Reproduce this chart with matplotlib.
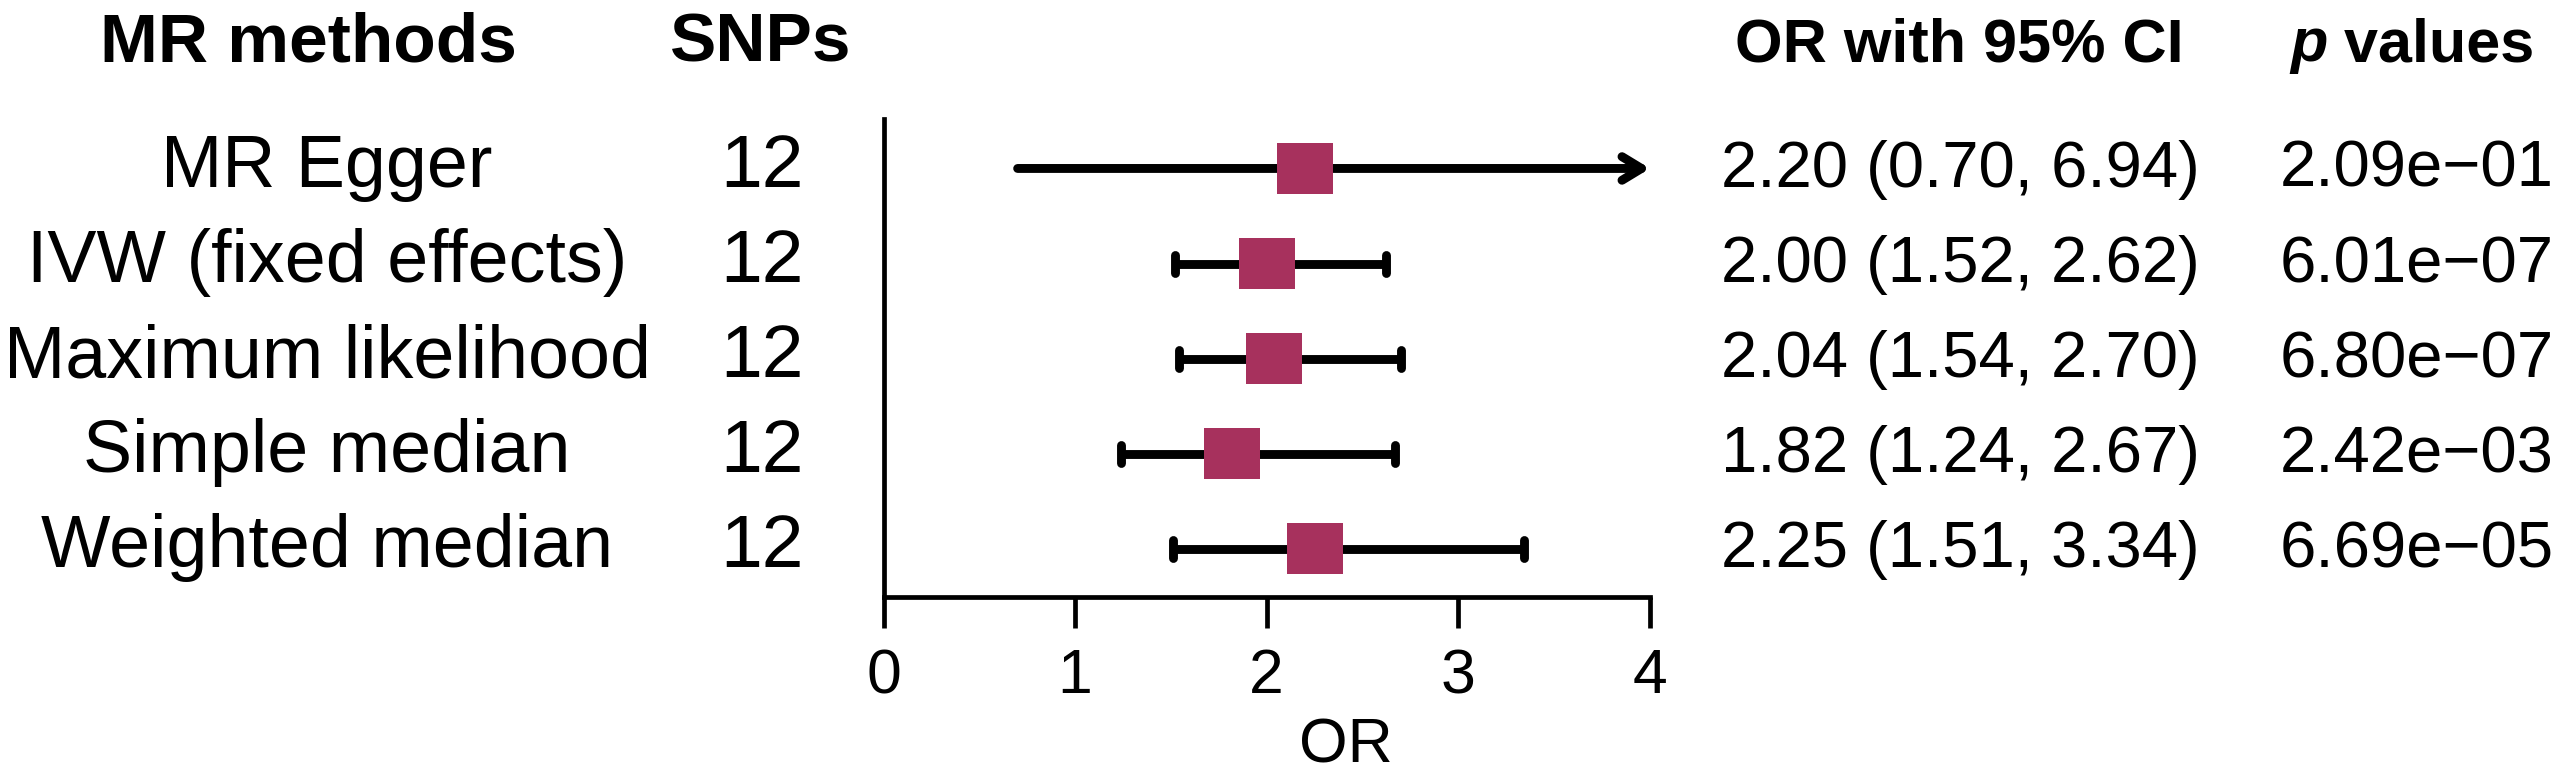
import matplotlib
matplotlib.use('Agg')
import matplotlib.pyplot as plt
from matplotlib import transforms
from matplotlib.patches import Rectangle

methods = ['MR Egger', 'IVW (fixed effects)', 'Maximum likelihood',
           'Simple median', 'Weighted median']
snps = [12, 12, 12, 12, 12]
odds = [2.20, 2.00, 2.04, 1.82, 2.25]
lower = [0.70, 1.52, 1.54, 1.24, 1.51]
upper = [6.94, 2.62, 2.70, 2.67, 3.34]
pvals = [2.09e-01, 6.01e-07, 6.80e-07, 2.42e-03, 6.69e-05]
xticks = [0, 1, 2, 3, 4]

W, H = 2559, 777
plt.rcParams['font.family'] = ['Liberation Sans', 'DejaVu Sans']

fig = plt.figure(figsize=(W / 100, H / 100), dpi=100)
ax = fig.add_axes([883.5 / W, 1 - 597 / H, (1650 - 883.5) / W, (597 - 119) / H])

box_col = '#a7315d'
lw = 6.4
xmax = xticks[-1]
n = len(methods)
pos = [n - i for i in range(n)]

ax.set_xlim(0, xmax)
ax.set_ylim(0.495, n + 0.52)
for s in ['top', 'right']:
    ax.spines[s].set_visible(False)
for s in ['left', 'bottom']:
    ax.spines[s].set_linewidth(3.4)
    ax.spines[s].set_capstyle('projecting')
ax.set_yticks([])
ax.set_xticks(xticks)
ax.tick_params(axis='x', length=22, width=3.4, pad=14, labelsize=45)

# boxes and CI lines, arrow when the CI runs past the axis
bw, bh = 0.292, 0.536
cap = 0.095
for o, lo, hi, p in zip(odds, lower, upper, pos):
    if hi > xmax:
        ax.annotate('', xy=(xmax, p), xytext=(lo, p), annotation_clip=False,
                    arrowprops=dict(arrowstyle='->,head_length=14,head_width=8.5',
                                    lw=lw, color='black', shrinkA=0, shrinkB=0,
                                    capstyle='round', joinstyle='round',
                                    mutation_scale=1))
    else:
        ax.hlines(p, lo, hi, color='black', lw=lw, capstyle='butt', zorder=2)
        ax.vlines([lo, hi], p - cap, p + cap, color='black', lw=lw,
                  capstyle='round', zorder=2)
    ax.add_patch(Rectangle((o - bw / 2, p - bh / 2), bw, bh, facecolor=box_col,
                           edgecolor='none', zorder=3))

# text columns
rows = transforms.blended_transform_factory(fig.transFigure, ax.transData)
rows = transforms.offset_copy(rows, fig=fig, y=-13.3, units='points')
head_y = 1 - 61 / H

fig.text(308.6 / W, head_y, 'MR methods', fontsize=50, weight='bold', ha='center', va='baseline')
fig.text(760.5 / W, head_y, 'SNPs', fontsize=50, weight='bold', ha='center', va='baseline')
fig.text(1959 / W, head_y, 'OR with 95% CI', fontsize=44, weight='bold', ha='center', va='baseline')
tp = fig.text(2290 / W, head_y, 'p', fontsize=44, weight='bold', style='italic',
              ha='left', va='baseline')
ax.annotate(' values', xy=(1, 0), xycoords=tp, fontsize=44, weight='bold',
            ha='left', va='bottom', annotation_clip=False)

for m, k, o, lo, hi, pv, p in zip(methods, snps, odds, lower, upper, pvals, pos):
    ax.text(327 / W, p, m, transform=rows, fontsize=53, ha='center', va='baseline', clip_on=False)
    ax.text(762 / W, p, str(k), transform=rows, fontsize=54, ha='center', va='baseline', clip_on=False)
    ax.text(1960 / W, p, f'{o:.2f} ({lo:.2f}, {hi:.2f})', transform=rows, fontsize=47,
            ha='center', va='baseline', clip_on=False)
    ax.text(2417 / W, p, f'{pv:.2e}'.replace('-', '\u2212'), transform=rows, fontsize=47,
            ha='center', va='baseline', clip_on=False)

fig.text(1346 / W, 0.002, 'OR', fontsize=45, ha='center', va='bottom')

fig.savefig('out.png', dpi=100)
